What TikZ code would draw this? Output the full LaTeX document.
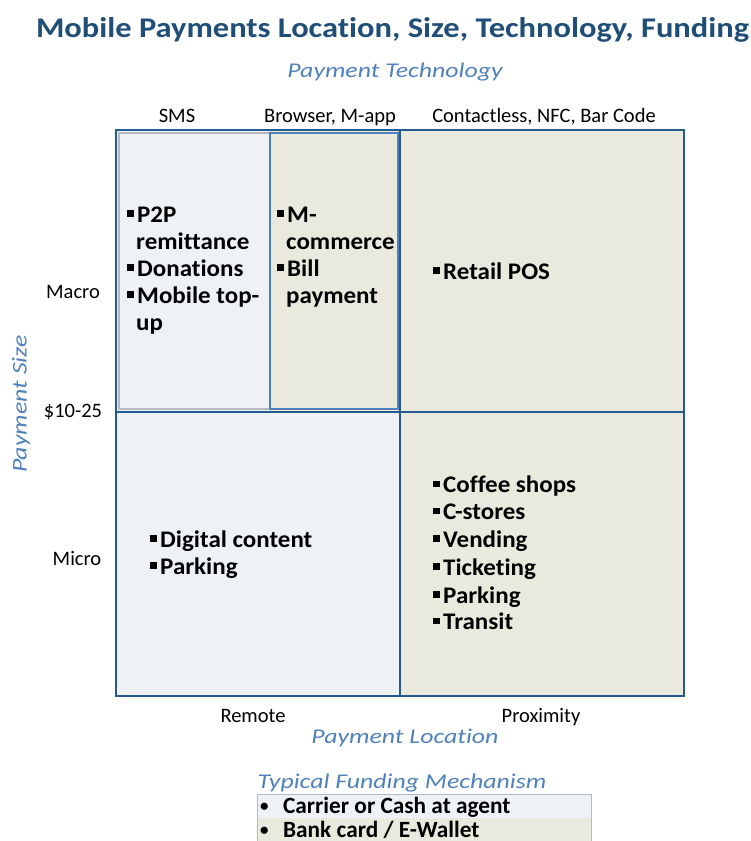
\documentclass[tikz,border=0pt]{standalone}
\usepackage{fontspec}
\setmainfont[Ligatures=NoCommon]{Carlito}
\newfontfamily\titlefont[FakeStretch=1.14,Ligatures=NoCommon]{Carlito}
\newfontfamily\axisfont[FakeStretch=1.23,Ligatures=NoCommon]{Carlito}
\newfontfamily\itemfont[FakeStretch=1.05,Ligatures=NoCommon]{Carlito}
\definecolor{darkblue}{HTML}{1F4E79}
\definecolor{linkblue}{HTML}{245A8D}
\definecolor{axisblue}{HTML}{4F81BD}
\definecolor{lightbluefill}{HTML}{EEF2F7}
\definecolor{beigefill}{HTML}{E9EADD}
\definecolor{graybord}{HTML}{B4B9C2}
\newcommand{\sqb}{\raisebox{0.22em}{\rule{0.3em}{0.27em}}\hspace{0.12em}}
\newcommand{\legbul}{{\fontsize{17}{17}\selectfont\raisebox{0.1em}{•}}}
\tikzset{
  title/.style={font=\titlefont\bfseries\fontsize{28.5}{32}\selectfont, text=darkblue, inner sep=0, anchor=base},
  axislabel/.style={font=\axisfont\itshape\fontsize{21}{24}\selectfont, text=axisblue, inner sep=0, anchor=base},
  ticklabel/.style={font=\fontsize{20.5}{24}\selectfont, text=black, inner sep=0, anchor=base},
  item/.style={font=\itemfont\bfseries\fontsize{23.8}{28}\selectfont, anchor=base west, inner sep=0},
  legitem/.style={font=\bfseries\fontsize{23.3}{26}\selectfont, anchor=base west, inner sep=0},
  bigline/.style={draw=linkblue, line width=1.8pt},
}
\begin{document}
\begin{tikzpicture}[x=1pt,y=-1pt]
\useasboundingbox (0,0) rectangle (751,841);
% titles
\node[title] (ttl) at (392.5,37.7) {Mobile Payments Location, Size, Technology, Funding};
\node[axislabel] (ptech) at (395,77.3) {Payment Technology};
\node[ticklabel] (sms) at (177,122.5) {SMS};
\node[ticklabel] (brow) at (330,122.5) {Browser, M-app};
\node[ticklabel] (contl) at (544,122.5) {Contactless, NFC, Bar Code};
% cell fills
\fill[lightbluefill] (116,130) rectangle (270,412);
\fill[beigefill] (270,130) rectangle (400,412);
\fill[beigefill] (400,130) rectangle (684,696);
\fill[lightbluefill] (116,412) rectangle (400,696);
% inner borders
\draw[graybord, line width=1.2pt] (119,133) rectangle (270,409);
\draw[axisblue, line width=1.2pt] (270,133) rectangle (398,409);
% main lines
\draw[bigline] (116,130) rectangle (684,696);
\draw[bigline] (400,130) -- (400,696);
\draw[bigline] (116,412) -- (684,412);
% row labels
\node[ticklabel] (macro) at (73,298.3) {Macro};
\node[ticklabel] (ten) at (73,417.6) {\$10-25};
\node[ticklabel] (micro) at (77,565.6) {Micro};
\node[axislabel, rotate=90, anchor=center] (psize) at (21,404) {Payment Size};
% bottom labels
\node[ticklabel] (remote) at (253,722.6) {Remote};
\node[ticklabel] (prox) at (541,722.6) {Proximity};
\node[axislabel] (ploc) at (405,743) {Payment Location};
% cell text
\node[item] (a1) at (127,222) {\sqb P2P};
\node[item] (a2) at (136,249) {remittance};
\node[item] (a3) at (127,276) {\sqb Donations};
\node[item] (a4) at (127,303) {\sqb Mobile top-};
\node[item] (a5) at (136,330) {up};
\node[item] (b1) at (277,222) {\sqb M-};
\node[item] (b2) at (286,249) {commerce};
\node[item] (b3) at (277,276) {\sqb Bill};
\node[item] (b4) at (286,303) {payment};
\node[item] (c1) at (433,279) {\sqb Retail POS};
\node[item] (d1) at (150,547) {\sqb Digital content};
\node[item] (d2) at (150,574) {\sqb Parking};
\node[item] (e1) at (433,492.5) {\sqb Coffee shops};
\node[item] (e2) at (433,519.5) {\sqb C-stores};
\node[item] (e3) at (433,547) {\sqb Vending};
\node[item] (e4) at (433,575) {\sqb Ticketing};
\node[item] (e5) at (433,603) {\sqb Parking};
\node[item] (e6) at (433,629.5) {\sqb Transit};
% legend
\node[axislabel] (tfm) at (402,788) {Typical Funding Mechanism};
\fill[lightbluefill] (257,794) rectangle (591,818);
\fill[beigefill] (257,818) rectangle (591,845);
\draw[graybord, line width=1pt] (257,845) -- (257,794) -- (591,794) -- (591,845);
\node[legitem] (l1) at (260,813) {\legbul\hspace{0.62em}Carrier or Cash at agent};
\node[legitem] (l2) at (260,837.5) {\legbul\hspace{0.62em}Bank card / E-Wallet};
\end{tikzpicture}
\end{document}
